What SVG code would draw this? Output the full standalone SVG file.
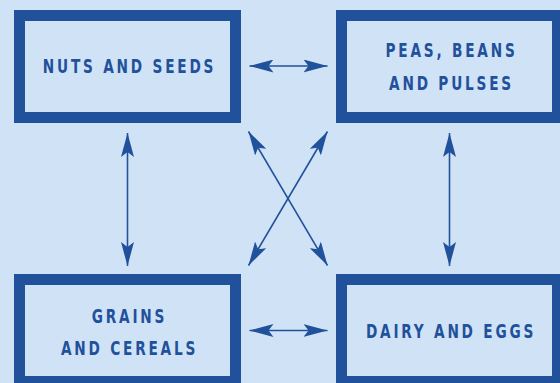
<svg xmlns="http://www.w3.org/2000/svg" width="560" height="383" viewBox="0 0 560 383">
<style>
.box{fill:none;stroke:#22519b;stroke-width:11}
.lbl{font-family:"DejaVu Sans Condensed","DejaVu Sans",sans-serif;font-size:19px;font-weight:bold;fill:#22519b;text-anchor:middle;letter-spacing:3.5px}
.con{stroke:#22519b;stroke-width:1.6;fill:none;marker-start:url(#ah);marker-end:url(#ah)}
</style>
<defs>
<marker id="ah" markerUnits="userSpaceOnUse" viewBox="0 0 24 13" refX="24" refY="6.5" markerWidth="24" markerHeight="13" orient="auto-start-reverse">
<path d="M0,0 L24,6.5 L0,13 L5,6.5 z" fill="#22519b"/>
</marker>
</defs>
<rect width="560" height="383" fill="#d0e3f6"/>
<g id="nuts"><rect class="box" x="19.5" y="15.5" width="216" height="102"/><text class="lbl" transform="translate(129.5,72.7) scale(0.8,1)">NUTS AND SEEDS</text></g>
<g id="peas"><rect class="box" x="341.5" y="15.5" width="216" height="102"/><text class="lbl" transform="translate(451.5,57.3) scale(0.8,1)">PEAS, BEANS</text><text class="lbl" transform="translate(451.5,90) scale(0.8,1)">AND PULSES</text></g>
<g id="grains"><rect class="box" x="19.5" y="279.5" width="216" height="102"/><text class="lbl" transform="translate(129.5,322.7) scale(0.8,1)">GRAINS</text><text class="lbl" transform="translate(129.5,355) scale(0.8,1)">AND CEREALS</text></g>
<g id="dairy"><rect class="box" x="341.5" y="279.5" width="216" height="102"/><text class="lbl" transform="translate(451,337.7) scale(0.8,1)">DAIRY AND EGGS</text></g>
<g id="connectors">
<line class="con" x1="249.5" y1="66" x2="327.5" y2="66"/>
<line class="con" x1="249.5" y1="330.5" x2="327.5" y2="330.5"/>
<line class="con" x1="127.5" y1="133" x2="127.5" y2="266"/>
<line class="con" x1="449.5" y1="133" x2="449.5" y2="266"/>
<line class="con" x1="248.5" y1="131.5" x2="327.5" y2="265.5"/>
<line class="con" x1="327.5" y1="131.5" x2="248.5" y2="265.5"/>
</g>
</svg>
